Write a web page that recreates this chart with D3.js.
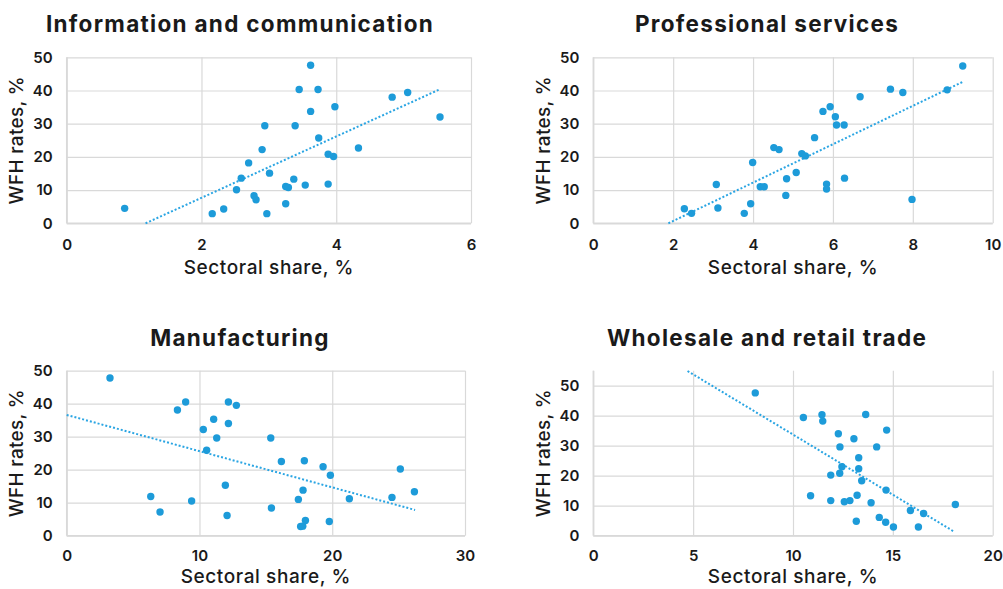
<!DOCTYPE html>
<html>
<head>
<meta charset="utf-8">
<script src="https://cdn.jsdelivr.net/npm/d3@7/dist/d3.min.js"></script>
<style>
  html, body { margin: 0; padding: 0; background: #ffffff; }
  svg { display: block; }
</style>
</head>
<body>
<svg id="chart" width="1003" height="589"></svg>
<script>
// ---------- DATA ----------
const panelTitles = ["Information and communication", "Professional services", "Manufacturing", "Wholesale and retail trade"];
const xAxisTitle = "Sectoral share, %";
const yAxisTitle = "WFH rates, %";

const infoTicksX = [0, 2, 4, 6];
const profTicksX = [0, 2, 4, 6, 8, 10];
const manuTicksX = [0, 10, 20, 30];
const tradeTicksX = [0, 5, 10, 15, 20];
const ticksY = [0, 10, 20, 30, 40, 50];

const infoShare = [0.86, 2.16, 2.33, 2.52, 2.59, 2.70, 2.78, 2.81, 2.90, 2.94, 2.97, 3.01, 3.25, 3.25, 3.29, 3.37, 3.39, 3.45, 3.54, 3.62, 3.62, 3.73, 3.74, 3.88, 3.88, 3.96, 3.98, 4.33, 4.83, 5.06, 5.54];
const infoWfh   = [4.5, 2.9, 4.3, 10.1, 13.6, 18.2, 8.3, 7.1, 22.2, 29.4, 2.9, 15.1, 5.9, 11.1, 10.8, 13.3, 29.4, 40.3, 11.5, 47.6, 33.7, 40.3, 25.7, 20.8, 11.8, 20.1, 35.1, 22.7, 38.0, 39.4, 32.0];
const infoTrend = [[1.17, 0], [5.52, 40.2]];

const profShare = [2.28, 2.46, 3.08, 3.12, 3.78, 3.94, 3.99, 4.18, 4.28, 4.52, 4.65, 4.82, 4.84, 5.08, 5.22, 5.31, 5.54, 5.75, 5.84, 5.84, 5.93, 6.06, 6.09, 6.28, 6.29, 6.68, 7.44, 7.75, 7.98, 8.86, 9.25];
const profWfh   = [4.4, 3.0, 11.7, 4.6, 3.0, 5.9, 18.3, 11.0, 11.0, 22.8, 22.2, 8.4, 13.4, 15.3, 21.0, 20.3, 25.8, 33.7, 11.8, 10.3, 35.1, 32.1, 29.6, 29.6, 13.6, 38.1, 40.4, 39.4, 7.2, 40.2, 47.4];
const profTrend = [[1.88, 0], [9.25, 42.6]];

const manuShare = [3.26, 6.33, 7.03, 8.34, 8.96, 9.41, 10.29, 10.54, 11.07, 11.30, 11.95, 12.08, 12.18, 12.18, 12.78, 15.37, 15.42, 16.17, 17.45, 17.62, 17.78, 17.80, 17.90, 17.98, 19.31, 19.78, 19.86, 21.29, 24.50, 25.13, 26.19];
const manuWfh   = [47.8, 11.9, 7.2, 38.1, 40.5, 10.5, 32.2, 25.9, 35.3, 29.6, 15.3, 6.1, 40.5, 34.0, 39.5, 29.6, 8.4, 22.5, 11.0, 2.8, 2.9, 13.8, 22.7, 4.6, 20.9, 4.3, 18.3, 11.2, 11.6, 20.2, 13.3];
const manuTrend = [[0, 36.6], [26.24, 7.8]];

const tradeShare = [8.11, 10.52, 11.45, 11.49, 10.88, 11.89, 11.89, 12.27, 12.35, 12.34, 12.45, 12.57, 12.85, 13.05, 13.17, 13.21, 13.29, 13.29, 13.44, 13.64, 13.91, 14.19, 14.32, 14.64, 14.66, 14.69, 15.03, 15.88, 16.28, 16.54, 18.13];
const tradeWfh   = [47.6, 39.4, 40.3, 38.2, 13.3, 20.2, 11.7, 34.0, 29.6, 20.8, 23.0, 11.3, 11.7, 32.3, 4.8, 13.5, 26.0, 22.3, 18.3, 40.4, 11.0, 29.6, 6.1, 4.5, 15.2, 35.2, 2.9, 8.4, 2.9, 7.4, 10.4];
const tradeTrend = [[4.72, 54.9], [18.08, 1.3]];

// ---------- LAYOUT ----------
const FONT = "Inter, 'Open Sans', 'DejaVu Sans', sans-serif";
const DOT = "#1d9bd9";
const GRID = "#d9d9d9";
const TEXT = "#1a1a1a";

const panels = [
  { title: panelTitles[0], xs: infoShare, ys: infoWfh, trend: infoTrend, xDom: [0, 6], xTicks: infoTicksX, yDom: [0, 50],
    left: 66.7, right: 471, top: 57.3, bottom: 223.3, titleX: 240, titleY: 32, yTitleX: 17, xLabelY: 250, xTitleY: 274 },
  { title: panelTitles[1], xs: profShare, ys: profWfh, trend: profTrend, xDom: [0, 10], xTicks: profTicksX, yDom: [0, 50],
    left: 593.3, right: 992.7, top: 57.3, bottom: 223.3, titleX: 767, titleY: 32, yTitleX: 544, xLabelY: 250, xTitleY: 274 },
  { title: panelTitles[2], xs: manuShare, ys: manuWfh, trend: manuTrend, xDom: [0, 30], xTicks: manuTicksX, yDom: [0, 50],
    left: 66.7, right: 465, top: 370.7, bottom: 535.7, titleX: 240, titleY: 346, yTitleX: 17, xLabelY: 561, xTitleY: 583 },
  { title: panelTitles[3], xs: tradeShare, ys: tradeWfh, trend: tradeTrend, xDom: [0, 20], xTicks: tradeTicksX, yDom: [0, 55],
    left: 593.3, right: 992.7, top: 370.7, bottom: 535.7, titleX: 767, titleY: 346, yTitleX: 544, xLabelY: 561, xTitleY: 583 }
];

const svg = d3.select("#chart");
const fmt = d3.format("d");

panels.forEach(p => {
  const x = d3.scaleLinear().domain(p.xDom).range([p.left, p.right]);
  const y = d3.scaleLinear().domain(p.yDom).range([p.bottom, p.top]);
  const g = svg.append("g");

  // horizontal grid
  g.append("g")
    .attr("transform", `translate(${p.left},0)`)
    .call(d3.axisLeft(y).tickValues(ticksY).tickSize(-(p.right - p.left)).tickFormat(""))
    .call(a => a.select(".domain").remove())
    .call(a => a.selectAll("line").attr("stroke", GRID).attr("stroke-width", 1.2));

  // vertical grid
  g.append("g")
    .attr("transform", `translate(0,${p.bottom})`)
    .call(d3.axisBottom(x).tickValues(p.xTicks).tickSize(-(p.bottom - p.top)).tickFormat(""))
    .call(a => a.select(".domain").remove())
    .call(a => a.selectAll("line").attr("stroke", GRID).attr("stroke-width", 1.2));

  // axis lines (left & bottom)
  g.append("line").attr("x1", p.left).attr("x2", p.left).attr("y1", p.top).attr("y2", p.bottom)
    .attr("stroke", GRID).attr("stroke-width", 1.5);
  g.append("line").attr("x1", p.left).attr("x2", p.right).attr("y1", p.bottom).attr("y2", p.bottom)
    .attr("stroke", GRID).attr("stroke-width", 1.5);

  // y tick labels
  const yAx = g.append("g")
    .attr("transform", `translate(${p.left},0)`)
    .call(d3.axisLeft(y).tickValues(ticksY).tickFormat(fmt).tickSize(0).tickPadding(14));
  yAx.select(".domain").remove();
  yAx.selectAll("text").attr("font-family", FONT).attr("font-size", 15).attr("font-weight", 600).attr("fill", TEXT);

  // x tick labels
  const xAx = g.append("g")
    .attr("transform", `translate(0,${p.bottom})`)
    .call(d3.axisBottom(x).tickValues(p.xTicks).tickFormat(fmt).tickSize(0).tickPadding(0));
  xAx.select(".domain").remove();
  xAx.selectAll("text").attr("font-family", FONT).attr("font-size", 15).attr("font-weight", 600).attr("fill", TEXT)
    .attr("dy", null).attr("y", p.xLabelY - p.bottom);

  // trend line
  g.append("line")
    .attr("x1", x(p.trend[0][0])).attr("y1", y(p.trend[0][1]))
    .attr("x2", x(p.trend[1][0])).attr("y2", y(p.trend[1][1]))
    .attr("stroke", "#2aa5e3").attr("stroke-width", 2).attr("stroke-dasharray", "2,2");

  // points
  g.append("g").selectAll("circle")
    .data(p.xs.map((v, i) => [v, p.ys[i]]))
    .join("circle")
    .attr("cx", d => x(d[0])).attr("cy", d => y(d[1])).attr("r", 3.7)
    .attr("fill", DOT);

  // titles
  g.append("text").text(p.title)
    .attr("x", p.titleX).attr("y", p.titleY).attr("text-anchor", "middle")
    .attr("font-family", FONT).attr("font-size", 22.5).attr("font-weight", 700).attr("fill", TEXT)
    .attr("letter-spacing", 1.3);

  g.append("text").text(xAxisTitle)
    .attr("x", (p.left + p.right) / 2).attr("y", p.xTitleY).attr("text-anchor", "middle")
    .attr("font-family", FONT).attr("font-size", 19).attr("font-weight", 500).attr("fill", TEXT)
    .attr("letter-spacing", 0.6);

  g.append("text").text(yAxisTitle)
    .attr("transform", `translate(${p.yTitleX + 6},${(p.top + p.bottom) / 2}) rotate(-90)`)
    .attr("text-anchor", "middle")
    .attr("font-family", FONT).attr("font-size", 19).attr("font-weight", 500).attr("fill", TEXT)
    .attr("letter-spacing", 0.3);
});
</script>
</body>
</html>
